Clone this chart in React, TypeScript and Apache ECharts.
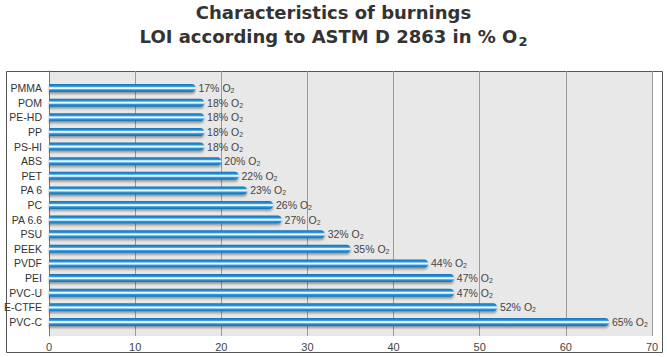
import React, { useEffect, useRef } from "react";
import * as echarts from "echarts";

const categories = ["PMMA", "POM", "PE-HD", "PP", "PS-HI", "ABS", "PET", "PA 6", "PC", "PA 6.6", "PSU", "PEEK", "PVDF", "PEI", "PVC-U", "E-CTFE", "PVC-C"];
const loiValues = [17, 18, 18, 18, 18, 20, 22, 23, 26, 27, 32, 35, 44, 47, 47, 52, 65];
const xTicks = { min: 0, max: 70, interval: 10 };
const titleLine1 = "Characteristics of burnings";
const titleLine2 = "LOI according to ASTM D 2863 in % O";

const narrow = "'Liberation Sans Narrow', 'Arial Narrow', 'Liberation Sans', sans-serif";

export default function App() {
  const ref = useRef<HTMLDivElement>(null);
  useEffect(() => {
    if (!ref.current) return;
    const chart = echarts.init(ref.current, undefined, { renderer: "svg" });
    const barGradient = new echarts.graphic.LinearGradient(0, 0, 0, 1, [
      { offset: 0, color: "#1670b8" },
      { offset: 0.3, color: "#2a98dc" },
      { offset: 0.46, color: "#eef7fd" },
      { offset: 0.56, color: "#eef7fd" },
      { offset: 0.72, color: "#2a98dc" },
      { offset: 1, color: "#136db5" },
    ]);
    chart.setOption({
      animation: false,
      backgroundColor: "#ffffff",
      title: {
        left: "center",
        top: 0,
        padding: [0, 0, 0, 0],
        text: "{a|" + titleLine1 + "}\n{a|" + titleLine2 + "}{s|2}",
        textStyle: {
          rich: {
            a: { fontFamily: "'DejaVu Sans', Verdana, sans-serif", fontWeight: "bold", fontSize: 18, color: "#333333", lineHeight: 24 },
            s: { fontFamily: "'DejaVu Sans', Verdana, sans-serif", fontWeight: "bold", fontSize: 13, color: "#333333", lineHeight: 24, padding: [11, 0, 0, 1] },
          },
        },
      },
      grid: [
        { left: 49, right: 15, top: 71, height: 265, show: true, backgroundColor: "#e8e8e8", borderWidth: 0 },
        { left: 49, right: 15, top: 80.7, height: 248.6 },
      ],
      xAxis: [
        {
          gridIndex: 0,
          type: "value",
          min: xTicks.min,
          max: xTicks.max,
          interval: xTicks.interval,
          axisLine: { show: false },
          axisTick: { show: false },
          splitLine: { show: true, lineStyle: { color: "#9a9a9a", width: 1 } },
          axisLabel: { margin: 5, fontFamily: narrow, fontSize: 11, color: "#444444" },
        },
        { gridIndex: 1, type: "value", min: xTicks.min, max: xTicks.max, show: false },
      ],
      yAxis: [
        {
          gridIndex: 0,
          type: "value",
          axisLabel: { show: false },
          splitLine: { show: false },
          axisTick: { show: false },
          axisLine: { show: true, lineStyle: { color: "#777777", width: 1 } },
        },
        {
          gridIndex: 1,
          type: "category",
          inverse: true,
          data: categories,
          axisLine: { show: false },
          axisTick: { show: false },
          splitLine: { show: false },
          axisLabel: { margin: 7, fontFamily: narrow, fontSize: 10.5, color: "#333333" },
        },
      ],
      series: [
        {
          type: "bar",
          xAxisIndex: 1,
          yAxisIndex: 1,
          data: loiValues,
          barWidth: 8,
          itemStyle: {
            color: barGradient,
            borderRadius: [0, 4, 4, 0],
            shadowColor: "rgba(0,0,0,0.35)",
            shadowBlur: 2,
            shadowOffsetY: 2,
          },
          label: {
            show: true,
            position: "right",
            distance: 3,
            formatter: (p: any) => "{n|" + p.value + "% O}{s|2}",
            rich: {
              n: { fontFamily: narrow, fontSize: 10.5, color: "#444444", lineHeight: 14 },
              s: { fontFamily: narrow, fontSize: 7, color: "#444444", lineHeight: 14, padding: [5, 0, 0, 0] },
            },
          },
        },
      ],
      graphic: [
        {
          type: "rect",
          shape: { x: 6.5, y: 71.5, width: 656, height: 281 },
          style: { fill: "none", stroke: "#555555", lineWidth: 1 },
          silent: true,
        },
      ],
    });
    return () => chart.dispose();
  }, []);
  return <div ref={ref} style={{ position: "fixed", left: 0, top: 0, width: 667, height: 357 }} />;
}
